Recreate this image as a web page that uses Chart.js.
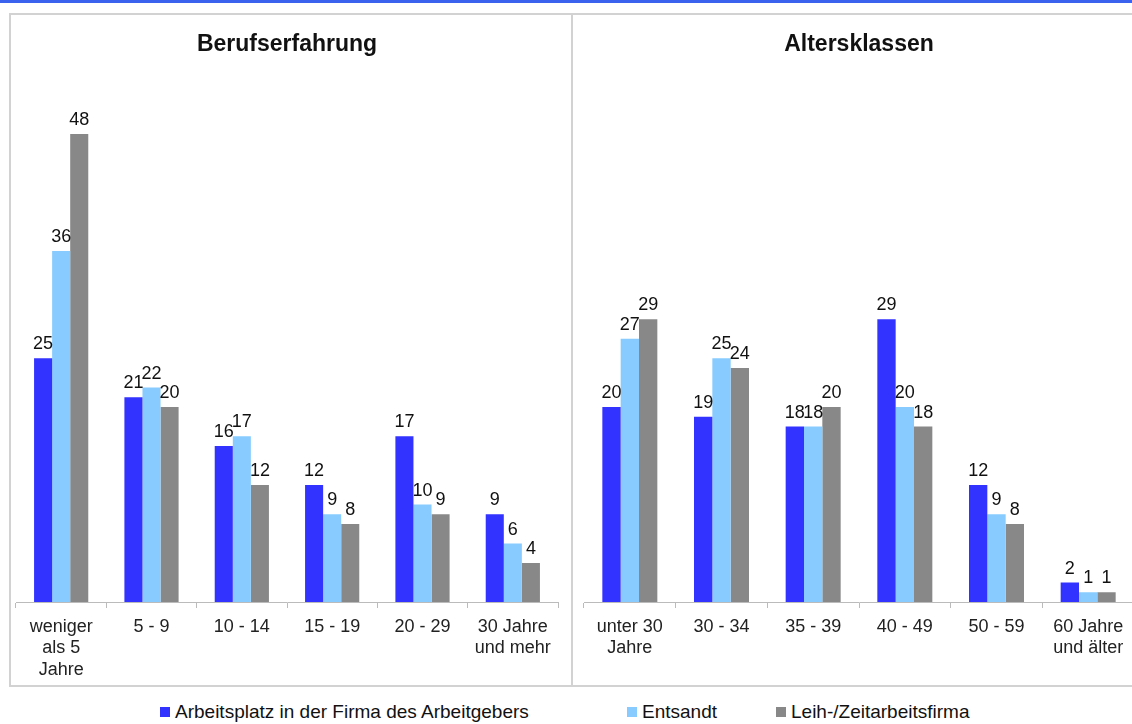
<!DOCTYPE html>
<html>
<head>
<meta charset="utf-8">
<script src="https://cdn.jsdelivr.net/npm/chart.js@4.4.1/dist/chart.umd.min.js"></script>
<style>
    body { margin: 0; width: 1132px; height: 724px; overflow: hidden; background: #fff; position: relative; font-family: 'Liberation Sans', Arial, sans-serif; }
    #topline { position: absolute; left: 0; top: 0; width: 1132px; height: 3px; background: #3a62ee; }
    #frame { position: absolute; left: 9px; top: 13px; width: 1140px; height: 670px; border: 2px solid #d2d2d2; }
    #sep { position: absolute; left: 571px; top: 13px; width: 2px; height: 674px; background: #d2d2d2; }
    .panel { position: absolute; top: 16px; height: 666px; }
    #leftPanel { left: 12px; width: 558px; }
    #rightPanel { left: 574px; width: 566px; }
    .leg { position: absolute; top: 700px; font-size: 19px; color: #111; line-height: 24px; white-space: nowrap; }
    .leg i { display: inline-block; width: 10px; height: 10px; margin-right: 5px; vertical-align: 1px; }
</style>
</head>
<body>
<div id="topline"></div>
<div id="frame"></div>
<div id="sep"></div>
<div class="panel" id="leftPanel"><canvas id="berufChart"></canvas></div>
<div class="panel" id="rightPanel"><canvas id="alterChart"></canvas></div>
<div class="leg" style="left:160px"><i style="background:#3333ff"></i>Arbeitsplatz in der Firma des Arbeitgebers</div>
<div class="leg" style="left:627px"><i style="background:#88ccff"></i>Entsandt</div>
<div class="leg" style="left:776px"><i style="background:#888888"></i>Leih-/Zeitarbeitsfirma</div>
<script>
// Berufserfahrung
const berufLabels = [['weniger', 'als 5', 'Jahre'], '5 - 9', '10 - 14', '15 - 19', '20 - 29', ['30 Jahre', 'und mehr']];
const berufFirma = [25, 21, 16, 12, 17, 9];
const berufEntsandt = [36, 22, 17, 9, 10, 6];
const berufLeih = [48, 20, 12, 8, 9, 4];

// Altersklassen
const alterLabels = [['unter 30', 'Jahre'], '30 - 34', '35 - 39', '40 - 49', '50 - 59', ['60 Jahre', 'und älter']];
const alterFirma = [20, 19, 18, 29, 12, 2];
const alterEntsandt = [27, 25, 18, 20, 9, 1];
const alterLeih = [29, 24, 20, 18, 8, 1];

const seriesNames = ['Arbeitsplatz in der Firma des Arbeitgebers', 'Entsandt', 'Leih-/Zeitarbeitsfirma'];
const seriesColors = ['#3333ff', '#88ccff', '#888888'];

Chart.defaults.font.family = "'Liberation Sans', Arial, sans-serif";
Chart.defaults.color = '#222';

// values above bars
const valueLabels = {
    id: 'valueLabels',
    afterDatasetsDraw(chart) {
        let ctx = chart.ctx;
        ctx.save();
        ctx.font = "18px 'Liberation Sans', Arial, sans-serif";
        ctx.fillStyle = '#111';
        ctx.textAlign = 'center';
        ctx.textBaseline = 'alphabetic';
        chart.data.datasets.forEach((ds, i) => {
            chart.getDatasetMeta(i).data.forEach((bar, j) => {
                ctx.fillText(ds.data[j], bar.x, bar.y - 9);
            });
        });
        ctx.restore();
    }
};

function makeChart(el, title, labels, a, b, c, pad) {
    return new Chart(el, {
        type: 'bar',
        data: {
            labels: labels,
            datasets: [a, b, c].map((d, i) => ({
                label: seriesNames[i],
                data: d,
                backgroundColor: seriesColors[i],
                borderWidth: 0,
                barPercentage: 1,
                categoryPercentage: 0.6
            }))
        },
        options: {
            responsive: true,
            maintainAspectRatio: false,
            animation: false,
            layout: { padding: { left: pad[0], right: pad[1], top: 0, bottom: 0 } },
            plugins: {
                legend: { display: false },
                tooltip: { enabled: false },
                title: {
                    display: true,
                    text: title,
                    color: '#111',
                    font: { size: 23, weight: 'bold' },
                    padding: { top: 15, bottom: 17 }
                }
            },
            scales: {
                x: {
                    grid: { display: true, drawOnChartArea: false, drawTicks: true, tickLength: 6, offset: true, color: '#bbbbbb' },
                    border: { display: true, color: '#bbbbbb', width: 1 },
                    ticks: { color: '#222', font: { size: 18, lineHeight: 1.2 }, padding: 8, maxRotation: 0, autoSkip: false },
                    afterFit: scale => { scale.height = 80; }
                },
                y: {
                    display: false,
                    min: 0,
                    max: 54
                }
            }
        },
        plugins: [valueLabels]
    });
}

makeChart($('#berufChart'), 'Berufserfahrung', berufLabels, berufFirma, berufEntsandt, berufLeih, [4, 12]);
makeChart($('#alterChart'), 'Altersklassen', alterLabels, alterFirma, alterEntsandt, alterLeih, [10, 6]);

function $(sel) { return document.querySelector(sel); }
</script>
</body>
</html>
